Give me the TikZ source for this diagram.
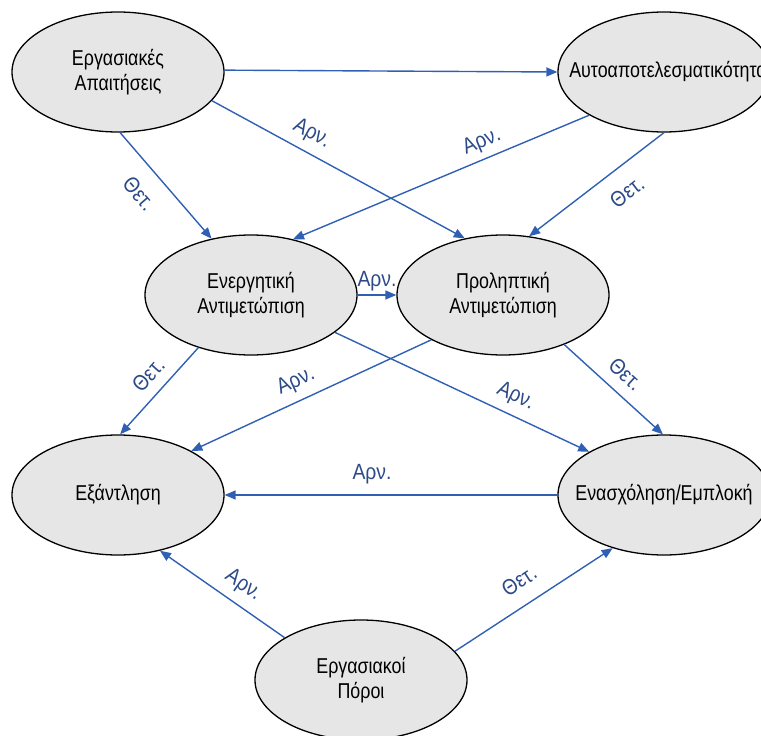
\documentclass[tikz,border=0pt]{standalone}
\usepackage{fontspec}
\setmainfont{Liberation Sans}
\newfontfamily\nodefont{Liberation Sans}[FakeStretch=0.83]
\newfontfamily\labfont{Liberation Sans}[FakeStretch=0.88]
\usetikzlibrary{shapes.geometric,arrows.meta}
\definecolor{lineblue}{HTML}{3060B4}
\definecolor{labblue}{HTML}{2C4A88}
\definecolor{ellfill}{HTML}{E6E6E6}
\tikzset{
  ell/.style={ellipse, draw=black, line width=1.3pt, fill=ellfill,
    minimum width=212pt, minimum height=120pt, inner sep=0pt, align=center,
    font=\nodefont\fontsize{21.5}{25}\selectfont},
  conn/.style={draw=lineblue, line width=1.4pt, -{Triangle[length=11pt,width=9pt]}},
  lab/.style={text=labblue, font=\labfont\fontsize{22}{24}\selectfont, sloped, inner sep=0pt}
}
\begin{document}
\begin{tikzpicture}[x=1pt,y=-1pt]
\useasboundingbox (0,0) rectangle (761,736);
\clip (0,0) rectangle (761,736);
\node[ell] (A) at (118,72) {Εργασιακές\\Απαιτήσεις};
\node[ell] (S) at (664,72) {\makebox[0pt]{\hspace{8pt}Αυτοαποτελεσματικότητα}};
\node[ell] (En) at (251,295) {Ενεργητική\\Αντιμετώπιση};
\node[ell] (Pr) at (503,295) {Προληπτική\\Αντιμετώπιση};
\node[ell] (Ex) at (118,495) {Εξάντληση};
\node[ell] (Eng) at (664,495) {\makebox[0pt]{Ενασχόληση/Εμπλοκή}};
\node[ell] (Po) at (361,680) {Εργασιακοί\\Πόροι};

\draw[conn] (A.1) -- (S.180);
\draw[conn] (A.-17) -- node[lab,pos=0.36,above=8pt] (l2) {Αρν.} (Pr.124);
\draw[conn] (A.-88) -- node[lab,pos=0.42,below=17pt] (l3) {Θετ.} (En.125);
\draw[conn] (S.210) -- node[lab,pos=0.34,above=6pt] (l4) {Αρν.} (En.53);
\draw[conn] (S.-90) -- node[lab,pos=0.385,below=16pt] (l5) {Θετ.} (Pr.66);
\draw[conn] (En.0) -- node[lab,pos=0.5,above=3pt] (l6) {Αρν.} (Pr.180);
\draw[conn] (En.225) -- node[lab,pos=0.46,above=10.5pt] (l7) {Θετ.} (Ex.88);
\draw[conn] (Pr.212) -- node[lab,pos=0.53,above=8.5pt] (l8) {Αρν.} (Ex.31);
\draw[conn] (En.-24) -- node[lab,pos=0.68,above=8pt] (l9) {Αρν.} (Eng.150);
\draw[conn] (Pr.-39) -- node[lab,pos=0.49,above=11pt] (l10) {Θετ.} (Eng.91);
\draw[conn] (Eng.180) -- node[lab,pos=0.557,above=10.5pt] (l11) {Αρν.} (Ex.0);
\draw[conn] (Po.151) -- node[lab,pos=0.42,above=8.5pt] (l12) {Αρν.} (Ex.-53);
\draw[conn] (Po.17) -- node[lab,pos=0.49,above=15.5pt] (l13) {Θετ.} (Eng.226);
\end{tikzpicture}
\end{document}
